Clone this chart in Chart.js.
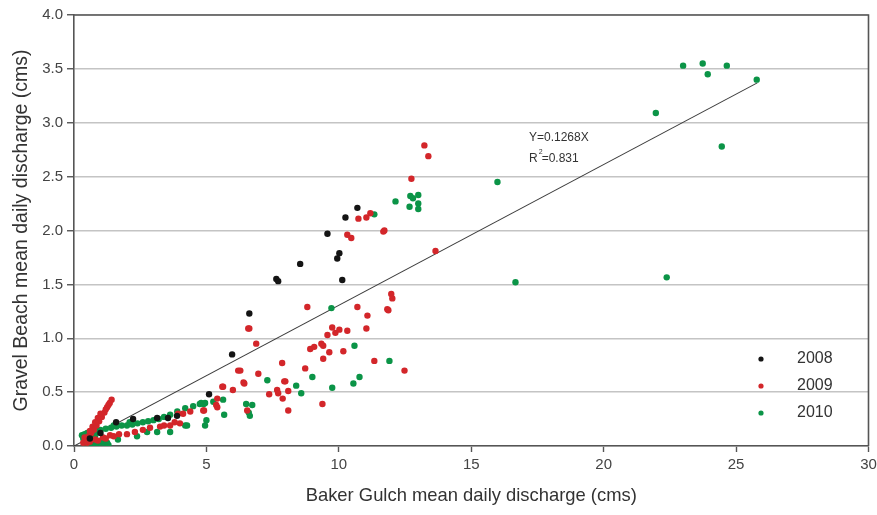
<!DOCTYPE html>
<html>
<head>
<meta charset="utf-8">
<script src="https://cdn.jsdelivr.net/npm/chart.js@4/dist/chart.umd.min.js"></script>
<style>
  body { margin: 0; background: #fff; }
  #wrap { width: 877px; height: 515px; }
</style>
</head>
<body>
<div id="wrap"><canvas id="grafico" width="877" height="515"></canvas></div>
<script>
// Datos (x = Baker Gulch, y = Gravel Beach), en cms
const puntos2008 = [
  [0.6,0.07],[1.0,0.12],[1.59,0.22],[2.23,0.25],[3.14,0.26],[3.55,0.26],[3.89,0.28],
  [5.1,0.48],[5.97,0.85],[6.62,1.23],[7.64,1.55],[7.71,1.53],[8.54,1.69],[9.57,1.97],
  [9.94,1.74],[10.02,1.79],[10.13,1.54],[10.25,2.12],[10.7,2.21]
];
const puntos2009 = [
  [0.35,0.03],[0.45,0.06],[0.55,0.09],[0.65,0.12],[0.7,0.18],[0.75,0.15],[0.85,0.19],
  [0.9,0.26],[0.95,0.23],[1.05,0.27],[1.15,0.31],[1.25,0.36],[1.35,0.40],[1.42,0.43],
  [0.5,0.03],[0.8,0.06],[1.1,0.08],[1.36,0.10],[1.7,0.11],[2.0,0.11],[2.3,0.13],
  [2.6,0.15],[2.87,0.17],[3.25,0.18],[3.63,0.19],[3.8,0.22],[3.93,0.30],[4.12,0.30],
  [4.39,0.32],[4.88,0.33],[4.91,0.33],[5.37,0.38],[5.41,0.36],[5.41,0.44],[5.6,0.55],
  [5.63,0.55],[6.0,0.52],[6.2,0.70],[6.28,0.70],[6.4,0.59],[6.43,0.58],[6.54,0.33],
  [6.58,1.09],[6.62,1.09],[6.88,0.95],[6.96,0.67],[7.37,0.48],[7.67,0.52],[7.71,0.49],
  [7.86,0.77],[7.88,0.44],[7.94,0.60],[7.98,0.60],[8.09,0.51],[8.09,0.33],[8.73,0.72],
  [8.81,1.29],[8.92,0.90],[9.07,0.92],[9.34,0.95],[9.38,0.39],[9.41,0.81],[9.41,0.93],
  [9.57,1.03],[9.64,0.87],[9.75,1.10],[9.87,1.05],[10.02,1.08],[10.17,0.88],[10.32,1.07],
  [10.7,1.29],[11.04,1.09],[11.08,1.21],[11.34,0.79],[11.83,1.27],[11.87,1.26],
  [11.98,1.41],[12.02,1.37],[12.48,0.70],[10.32,1.96],[10.47,1.93],[11.68,1.99],
  [11.72,2.0],[10.74,2.11],[11.04,2.12],[11.19,2.16],[12.74,2.48],[13.23,2.79],
  [13.38,2.69],[13.65,1.81],
  [0.6,0.04],[0.9,0.05],[1.2,0.07],[1.5,0.09],[0.4,0.08],[0.6,0.14],[0.8,0.22],
  [1.0,0.30],[1.2,0.34],[1.3,0.38],[3.4,0.19],[4.0,0.21]
];
const puntos2010 = [
  [0.3,0.10],[0.4,0.11],[0.5,0.12],[0.6,0.12],[0.7,0.13],[0.85,0.14],[1.0,0.15],
  [1.2,0.16],[1.4,0.17],[1.6,0.18],[1.8,0.19],[2.0,0.19],[2.2,0.20],[2.4,0.21],
  [2.6,0.22],[2.8,0.23],[3.0,0.24],[3.2,0.25],[3.4,0.27],[3.63,0.29],[3.9,0.32],
  [4.2,0.35],[4.5,0.37],[4.75,0.39],[4.95,0.40],
  [0.5,0.02],[0.7,0.02],[0.9,0.02],[1.1,0.03],[1.25,0.03],[0.4,0.05],[0.6,0.06],
  [1.0,0.05],[1.66,0.06],[2.38,0.09],[2.76,0.13],[3.14,0.13],[3.63,0.13],[4.2,0.19],
  [4.27,0.19],[4.95,0.19],[5.0,0.24],[4.8,0.40],[4.9,0.39],[5.26,0.41],[5.63,0.43],
  [5.67,0.29],[6.5,0.39],[6.73,0.38],[6.6,0.31],[6.64,0.28],[7.30,0.61],[8.39,0.56],
  [8.58,0.49],[9.0,0.64],[9.72,1.28],[9.75,0.54],[10.55,0.58],[10.78,0.64],[10.59,0.93],
  [11.34,2.15],[11.91,0.79],[12.14,2.27],[12.7,2.32],[12.8,2.30],[13.0,2.33],[12.67,2.22],
  [13.0,2.25],[13.0,2.20],[15.99,2.45],[16.67,1.52],[21.97,3.09],[22.38,1.565],
  [23.0,3.53],[23.74,3.55],[24.65,3.53],[23.93,3.45],[24.46,2.78],[25.78,3.40],
  [0.35,0.07],[0.55,0.09],[0.8,0.10],[1.3,0.01],[0.8,0.00],[1.5,0.19],[2.1,0.22]
];
// Recta de regresión tal como aparece dibujada
const rectaX = [0, 25.8];
const rectaY = [0, 3.37];

const etiquetas = ['2008', '2009', '2010'];
const colores = ['#141414', '#d3262a', '#0b9447'];
const ecuacion = 'Y=0.1268X';
const r2 = '=0.831';

const ticksY = [0, 0.5, 1, 1.5, 2, 2.5, 3, 3.5, 4];
const ticksX = [0, 5, 10, 15, 20, 25, 30];

const fuente = "'Liberation Sans', Arial, sans-serif";

function aXY(lista) {
  return lista.map(p => ({ x: p[0], y: p[1] }));
}

// Marco, texto de la ecuación y leyenda
const extras = {
  id: 'extras',
  afterDraw(chart) {
    const ctx = chart.ctx;
    const area = chart.chartArea;
    ctx.save();
    ctx.strokeStyle = '#555';
    ctx.lineWidth = 1.6;
    ctx.beginPath();
    ctx.moveTo(area.left, area.top);
    ctx.lineTo(area.right, area.top);
    ctx.lineTo(area.right, area.bottom);
    ctx.stroke();

    // ecuación
    ctx.fillStyle = '#333';
    ctx.font = '12px ' + fuente;
    ctx.textBaseline = 'middle';
    ctx.textAlign = 'left';
    ctx.fillText(ecuacion, 529, 138);
    ctx.fillText('R', 529, 159);
    const wR = ctx.measureText('R').width;
    ctx.font = '7px ' + fuente;
    ctx.fillText('2', 529 + wR + 1, 152);
    ctx.font = '12px ' + fuente;
    ctx.fillText(r2, 529 + wR + 4, 159);

    // leyenda
    ctx.font = '16px ' + fuente;
    etiquetas.forEach((t, i) => {
      const y = 359 + i * 27;
      ctx.fillStyle = colores[i];
      ctx.beginPath();
      ctx.arc(761, y, 2.6, 0, Math.PI * 2);
      ctx.fill();
      ctx.fillStyle = '#333';
      ctx.fillText(t, 797, y);
    });
    ctx.restore();
  }
};

const conjuntos = [puntos2008, puntos2009, puntos2010].map((pts, i) => ({
  type: 'scatter',
  label: etiquetas[i],
  data: aXY(pts),
  backgroundColor: colores[i],
  borderColor: colores[i],
  borderWidth: 0,
  pointRadius: 3.2,
  pointHoverRadius: 3.2
}));

conjuntos.push({
  type: 'line',
  label: 'ajuste',
  data: rectaX.map((x, i) => ({ x: x, y: rectaY[i] })),
  borderColor: '#3a3a3a',
  borderWidth: 1.1,
  pointRadius: 0,
  fill: false
});

new Chart(document.getElementById('grafico'), {
  type: 'scatter',
  data: { datasets: conjuntos },
  plugins: [extras],
  options: {
    responsive: false,
    animation: false,
    layout: { padding: { left: 0, top: 15, right: 0, bottom: 0 } },
    plugins: {
      legend: { display: false },
      tooltip: { enabled: false }
    },
    scales: {
      x: {
        type: 'linear',
        min: 0, max: 30,
        afterBuildTicks: s => { s.ticks = ticksX.map(v => ({ value: v })); },
        afterFit: s => { s.height = 69; s.paddingRight = 8.5; },
        border: { color: '#555', width: 1.6 },
        grid: { drawOnChartArea: false, drawTicks: true, tickLength: 6, tickColor: '#555', tickWidth: 1.4 },
        ticks: { color: '#444', font: { family: fuente, size: 15 }, padding: 4, callback: v => String(v) },
        title: { display: true, text: 'Baker Gulch mean daily discharge (cms)', color: '#333',
                 font: { family: fuente, size: 18.4 }, padding: { top: 8, bottom: 8 } }
      },
      y: {
        type: 'linear',
        min: 0, max: 4,
        afterBuildTicks: s => { s.ticks = ticksY.map(v => ({ value: v })); },
        afterFit: s => { s.width = 74; },
        border: { color: '#555', width: 1.6 },
        grid: { color: '#c4c4c4', lineWidth: 1.5, drawTicks: true, tickLength: 7, tickColor: '#555', tickWidth: 1.4 },
        ticks: { color: '#444', font: { family: fuente, size: 15 }, padding: 4, callback: v => v.toFixed(1) },
        title: { display: true, text: 'Gravel Beach mean daily discharge (cms)', color: '#333',
                 font: { family: fuente, size: 19.5 }, padding: { top: 10, bottom: 0 } }
      }
    }
  }
});
</script>
</body>
</html>
